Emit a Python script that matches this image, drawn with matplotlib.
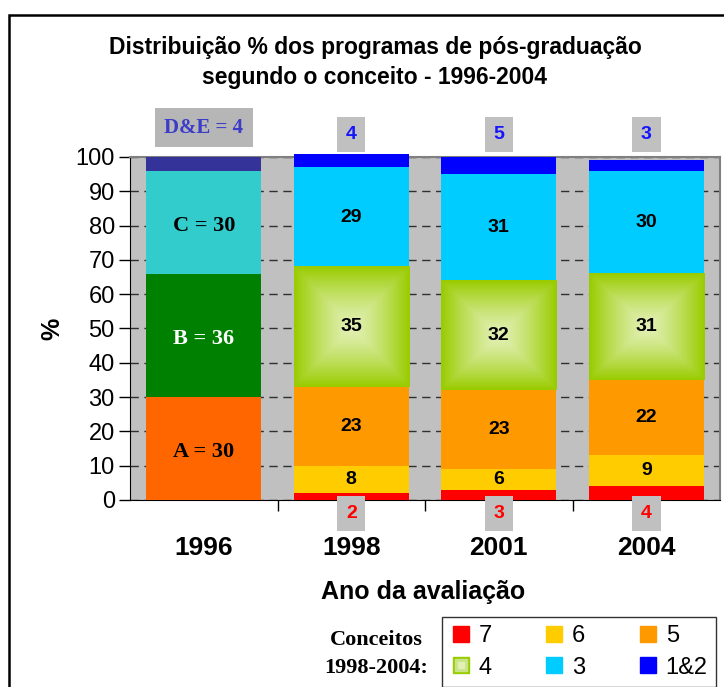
import numpy as np
import matplotlib
matplotlib.use("Agg")
import matplotlib.pyplot as plt
from matplotlib.lines import Line2D
from matplotlib.legend_handler import HandlerTuple
from matplotlib.patches import Rectangle
from matplotlib.colors import to_rgb

# data
years = ['1996', '1998', '2001', '2004']

# 1996: old scale A..E
old_labels = ['A', 'B', 'C', 'D&E']
old_values = [30, 36, 30, 4]
old_colors = ['#ff6600', '#008000', '#33cccc', '#333399']
old_text_colors = ['black', 'white', 'black', '#3c3cc8']

# 1998-2004: new scale 7..1&2 (bottom to top)
new_labels = ['7', '6', '5', '4', '3', '1&2']
c7 = [2, 3, 4]
c6 = [8, 6, 9]
c5 = [23, 23, 22]
c4 = [35, 32, 31]
c3 = [29, 31, 30]
c12 = [4, 5, 3]
new_values = [c7, c6, c5, c4, c3, c12]
new_colors = ['#ff0000', '#ffcc00', '#ff9900', '#99cc00', '#00ccff', '#0000ff']
green_light = '#e2f0b4'

sans = 'Liberation Sans'
serif = 'Liberation Serif'
plot_bg = '#c0c0c0'

fig = plt.figure(figsize=(7.24, 6.87), dpi=100)
ax = fig.add_axes([0.1796, 0.2722, 0.815, 0.4993])
ax.set_facecolor(plot_bg)

x = np.arange(len(years))
w = 0.78

# 1996 bar
bottom = 0
for lab, val, col, tcol in zip(old_labels, old_values, old_colors, old_text_colors):
    ax.bar(x[0], val, w, bottom=bottom, color=col, zorder=3, clip_on=False)
    if lab == 'D&E':
        ax.text(x[0], 108.5, f'{lab} = {val}', ha='center', va='center', color=tcol,
                fontsize=15, fontweight='bold', family=serif, zorder=6, clip_on=False,
                bbox=dict(boxstyle='square,pad=0.45', fc='#b6b6b6', ec='none'))
    else:
        ax.text(x[0], bottom + val / 2 - 1, f'{lab} = {val}', ha='center', va='center',
                color=tcol, fontsize=16, fontweight='bold', family=serif, zorder=5)
    bottom += val


def gradient_img(c_edge, c_center, n=80):
    yy, xx = np.mgrid[-1:1:n * 1j, -1:1:n * 1j]
    t = np.maximum(np.abs(xx), np.abs(yy)) ** 1.3
    e = np.array(to_rgb(c_edge))
    c = np.array(to_rgb(c_center))
    return c[None, None, :] * (1 - t[..., None]) + e[None, None, :] * t[..., None]


# 1998-2004 bars
xs = x[1:]
bottoms = np.zeros(len(xs))
for lab, vals, col in zip(new_labels, new_values, new_colors):
    vals = np.array(vals, dtype=float)
    ax.bar(xs, vals, w, bottom=bottoms, color=col, zorder=3, clip_on=False)
    for xi, b, v in zip(xs, bottoms, vals):
        if lab == '4':
            ax.imshow(gradient_img(col, green_light), extent=(xi - w / 2, xi + w / 2, b, b + v),
                      aspect='auto', interpolation='bilinear', zorder=3.5)
        if lab == '7':
            ax.text(xi, -4, f'{int(v)}', ha='center', va='center', color='#ff0000',
                    fontsize=14, fontweight='bold', family=sans, zorder=6, clip_on=False,
                    bbox=dict(boxstyle='square,pad=0.45', fc=plot_bg, ec='none'))
        elif lab == '1&2':
            ax.text(xi, 106.5, f'{int(v)}', ha='center', va='center', color='#1414ff',
                    fontsize=14, fontweight='bold', family=sans, zorder=6, clip_on=False,
                    bbox=dict(boxstyle='square,pad=0.45', fc=plot_bg, ec='none'))
        else:
            ax.text(xi, b + v / 2, f'{int(v)}', ha='center', va='center', color='black',
                    fontsize=14, fontweight='bold', family=sans, zorder=5)
    bottoms += vals

ax.set_xlim(-0.5, 3.5)
ax.set_ylim(0, 100)

# grid
ax.set_yticks(np.arange(0, 101, 10))
ax.yaxis.grid(True, color='#303030', linestyle=(0, (6, 4)), linewidth=1)
ax.set_axisbelow(True)

for tl in ax.get_yticklabels():
    tl.set_fontsize(17)
    tl.set_family(sans)
ax.tick_params(axis='y', direction='out', length=8, width=1, color='black', pad=3)

ax.set_xticks([0.5, 1.5, 2.5])
ax.set_xticklabels([])
ax.tick_params(axis='x', which='major', direction='out', length=8, width=1, color='black')
ax.set_xticks(x, minor=True)
ax.set_xticklabels(years, minor=True, fontsize=19, fontweight='bold', family=sans)
ax.tick_params(axis='x', which='minor', length=0, pad=26)

ax.spines['left'].set_color('black')
ax.spines['bottom'].set_color('black')
ax.spines['top'].set_color('#808080')
ax.spines['right'].set_color('#808080')
ax.spines['top'].set_linewidth(1.5)
ax.spines['right'].set_linewidth(1.5)
for s in ax.spines.values():
    s.set_zorder(2.8)

ax.set_ylabel('%', fontsize=18, fontweight='bold', family=sans, labelpad=8)
fig.text(423 / 724, 1 - 592 / 687, 'Ano da avaliação', ha='center', va='center',
         fontsize=18, fontweight='bold', family=sans)

fig.text(375 / 724, 1 - 62.5 / 687,
         'Distribuição % dos programas de pós-graduação\nsegundo o conceito - 1996-2004',
         ha='center', va='center', fontsize=16.5, fontweight='bold', family=sans,
         linespacing=1.42)

# legend
handles = []
for lab, col in zip(new_labels, new_colors):
    if lab == '4':
        h = (Line2D([], [], marker='s', ls='none', ms=12, mfc=col, mec=col),
             Line2D([], [], marker='s', ls='none', ms=8, mfc='#c8e486', mec='#c8e486'),
             Line2D([], [], marker='s', ls='none', ms=4, mfc=green_light, mec=green_light))
    else:
        h = Line2D([], [], marker='s', ls='none', ms=12, mfc=col, mec=col)
    handles.append(h)
order = [0, 3, 1, 4, 2, 5]
leg = fig.legend([handles[i] for i in order], [new_labels[i] for i in order],
                 loc='upper left', bbox_to_anchor=(442 / 724, 1 - 617 / 687), ncol=3,
                 prop=dict(family=sans, size=17), frameon=True, fancybox=False,
                 edgecolor='black', borderaxespad=0, handlelength=0.9, handletextpad=0.3,
                 columnspacing=2.2, labelspacing=0.4, borderpad=0.35,
                 handler_map={tuple: HandlerTuple(ndivide=1, pad=0)})
leg.get_frame().set_linewidth(1)

fig.text(376 / 724, 1 - 654 / 687, 'Conceitos\n1998-2004:', ha='center', va='center',
         fontsize=16, fontweight='bold', family=serif, linespacing=1.55)

# outer frame
fig.add_artist(Rectangle((9 / 724, -0.1), 1.1, 1.1 - 15 / 687, transform=fig.transFigure,
                         fill=False, ec='black', lw=1.8))

fig.savefig('out.png', dpi=100)
